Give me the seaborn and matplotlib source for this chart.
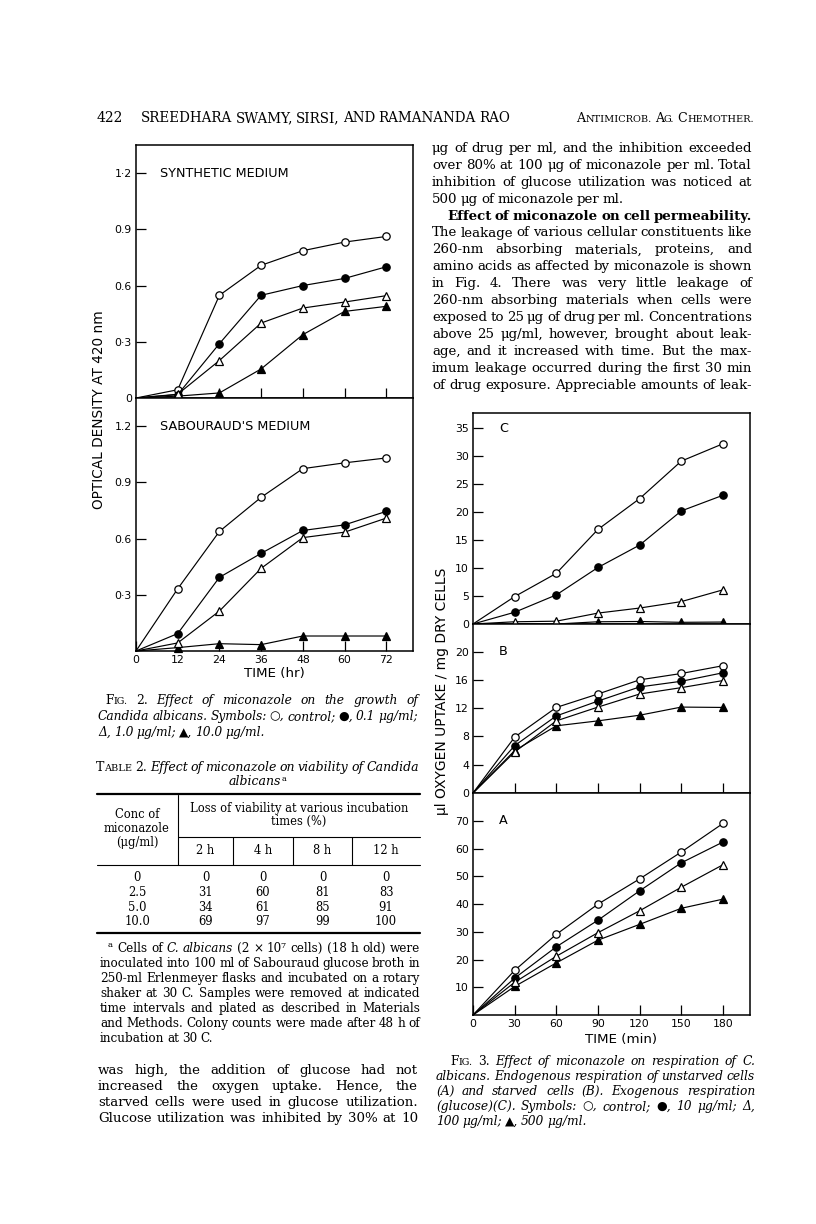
import numpy as np
import pandas as pd
import seaborn as sns
import matplotlib.pyplot as plt
from matplotlib.lines import Line2D

W, H = 816, 1224

# Fig. 2: growth of C. albicans, optical density at 420 nm
hours = [0, 12, 24, 36, 48, 60, 72]
syn_control = [0, 0.044, 0.548, 0.708, 0.786, 0.832, 0.862]
syn_01 = [0, 0.018, 0.29, 0.548, 0.60, 0.638, 0.70]
syn_10 = [0, 0.02, 0.20, 0.40, 0.48, 0.512, 0.546]
syn_100 = [0, 0.01, 0.027, 0.155, 0.338, 0.462, 0.489]
sab_control = [0, 0.332, 0.638, 0.82, 0.973, 1.004, 1.03]
sab_01 = [0, 0.093, 0.393, 0.521, 0.643, 0.673, 0.745]
sab_10 = [0, 0.043, 0.213, 0.441, 0.605, 0.634, 0.709]
sab_100 = [0, 0.018, 0.039, 0.034, 0.08, 0.08, 0.08]

# Fig. 3: oxygen uptake (ul / mg dry cells)
minutes = [0, 30, 60, 90, 120, 150, 180]
c_control = [0, 4.9, 9.05, 16.9, 22.4, 29.1, 32.2]
c_10 = [0, 2.1, 5.2, 10.1, 14.1, 20.2, 23.0]
c_100 = [0, 0.4, 0.5, 1.95, 2.85, 4.0, 6.1]
c_500 = [0, 0.0, 0.0, 0.4, 0.45, 0.3, 0.35]
b_control = [0, 7.9, 12.1, 14.0, 16.0, 16.9, 18.0]
b_10 = [0, 6.7, 10.9, 13.0, 15.0, 15.8, 17.0]
b_100 = [0, 5.8, 10.2, 12.15, 14.0, 14.9, 15.9]
b_500 = [0, 6.0, 9.5, 10.2, 11.0, 12.15, 12.1]
a_control = [0, 16.1, 29.1, 40.0, 49.1, 58.8, 69.1]
a_10 = [0, 13.3, 24.6, 34.2, 44.8, 54.9, 62.4]
a_100 = [0, 11.8, 21.2, 29.7, 37.6, 46.1, 54.2]
a_500 = [0, 10.3, 18.8, 27.0, 32.7, 38.5, 41.8]

# Table 2
conc_labels = ["0", "2.5", "5.0", "10.0"]
time_cols = ["2 h", "4 h", "8 h", "12 h"]
loss = [[0, 0, 0, 0], [31, 60, 81, 83], [34, 61, 85, 91], [69, 97, 99, 100]]

sns.set_style("ticks")
plt.rcParams["font.family"] = ["DejaVu Serif", "DejaVu Sans"]

fig = plt.figure(figsize=(W / 100, H / 100), dpi=100)
fig.patch.set_facecolor("white")

SANS = dict(family="DejaVu Sans", color="black")
SERIF = ["DejaVu Serif", "DejaVu Sans"]
BODY = dict(family=SERIF, fontsize=9.7, color="black")
BOLD = dict(BODY, weight="bold")
TICK = 7.8
LAB = 9.2

# open circle, filled circle, open triangle, filled triangle
SYMBOLS = [("o", "white"), ("o", "black"), ("^", "white"), ("^", "black")]


def panel(left, top, right, bottom):
    return fig.add_axes([left / W, 1 - bottom / H, (right - left) / W, (bottom - top) / H])


def draw_series(ax, x, series):
    # filled triangles go under the open ones
    for i in [0, 1, 3, 2]:
        mk, fc = SYMBOLS[i]
        sns.lineplot(x=x, y=series[i], ax=ax, color="black", linewidth=0.85,
                     marker=mk, markersize=5.3 if mk == "o" else 5.8,
                     markerfacecolor=fc, markeredgecolor="black",
                     markeredgewidth=0.9, markevery=slice(1, None),
                     errorbar=None, clip_on=False, zorder=3)
    ax.set_xlabel("")
    ax.set_ylabel("")
    for s in ax.spines.values():
        s.set_linewidth(1.1)
        s.set_color("black")
    ax.tick_params(direction="in", length=7, width=0.9, pad=3, colors="black")


# ---------------- Fig. 2 ----------------
ax_syn = panel(136, 145, 413, 398)
draw_series(ax_syn, hours, [syn_control, syn_01, syn_10, syn_100])
ax_syn.set_xlim(0, 79.7)
ax_syn.set_ylim(0, 1.35)
ax_syn.set_xticks([12, 24, 36, 48, 60, 72])
ax_syn.tick_params(axis="x", labelbottom=False)
ax_syn.set_yticks([0, 0.3, 0.6, 0.9, 1.2])
ax_syn.set_yticklabels(["0", "0·3", "0.6", "0.9", "1·2"], fontsize=TICK, **SANS)
ax_syn.text(6.9, 1.2, "SYNTHETIC MEDIUM", va="center", ha="left", fontsize=LAB, **SANS)

ax_sab = panel(136, 398, 413, 651)
draw_series(ax_sab, hours, [sab_control, sab_01, sab_10, sab_100])
ax_sab.set_xlim(0, 79.7)
ax_sab.set_ylim(0, 1.35)
ax_sab.set_xticks(hours)
ax_sab.set_xticklabels([str(h) for h in hours], fontsize=TICK, **SANS)
ax_sab.set_yticks([0.3, 0.6, 0.9, 1.2])
ax_sab.set_yticklabels(["0·3", "0.6", "0.9", "1.2"], fontsize=TICK, **SANS)
ax_sab.text(6.9, 1.2, "SABOURAUD'S MEDIUM", va="center", ha="left", fontsize=LAB, **SANS)

fig.text(99 / W, 1 - 410 / H, "OPTICAL DENSITY AT 420 nm", rotation=90,
         ha="center", va="center", fontsize=9.8, **SANS)
fig.text(274 / W, 1 - 674 / H, "TIME (hr)", ha="center", va="center", fontsize=9.6, **SANS)

# ---------------- Fig. 3 ----------------
ax_c = panel(473, 413, 750, 624)
draw_series(ax_c, minutes, [c_control, c_10, c_100, c_500])
ax_c.set_xlim(0, 199.5)
ax_c.set_ylim(0, 37.7)
ax_c.set_xticks([])
ax_c.set_yticks([0, 5, 10, 15, 20, 25, 30, 35])
ax_c.set_yticklabels([str(v) for v in [0, 5, 10, 15, 20, 25, 30, 35]], fontsize=TICK, **SANS)
ax_c.text(18.7, 35, "C", va="center", ha="left", fontsize=LAB, **SANS)

ax_b = panel(473, 624, 750, 793)
draw_series(ax_b, minutes, [b_control, b_10, b_100, b_500])
ax_b.set_xlim(0, 199.5)
ax_b.set_ylim(0, 23.9)
ax_b.set_xticks(minutes[1:])
ax_b.tick_params(axis="x", labelbottom=False)
ax_b.set_yticks([0, 4, 8, 12, 16, 20])
ax_b.set_yticklabels([str(v) for v in [0, 4, 8, 12, 16, 20]], fontsize=TICK, **SANS)
ax_b.text(18.7, 20, "B", va="center", ha="left", fontsize=LAB, **SANS)

ax_a = panel(473, 793, 750, 1015)
draw_series(ax_a, minutes, [a_control, a_10, a_100, a_500])
ax_a.set_xlim(0, 199.5)
ax_a.set_ylim(0, 80.1)
ax_a.set_xticks(minutes)
ax_a.set_xticklabels([str(m) for m in minutes], fontsize=TICK, **SANS)
ax_a.set_yticks([10, 20, 30, 40, 50, 60, 70])
ax_a.set_yticklabels([str(v) for v in [10, 20, 30, 40, 50, 60, 70]], fontsize=TICK, **SANS)
ax_a.text(18.7, 70, "A", va="center", ha="left", fontsize=LAB, **SANS)

fig.text(442 / W, 1 - 691 / H, "μl OXYGEN UPTAKE / mg DRY CELLS", rotation=90,
         ha="center", va="center", fontsize=10, **SANS)
fig.text(621 / W, 1 - 1040 / H, "TIME (min)", ha="center", va="center", fontsize=9.6, **SANS)


# ---------------- page text ----------------
REND = fig.canvas.get_renderer()


def words(s, props):
    return [[(w, props)] for w in s.split()]


def smallcap(word, props, ratio=0.78):
    small = dict(props, fontsize=props["fontsize"] * ratio)
    parts = [(word[0], dict(props))]
    if len(word) > 1:
        parts.append((word[1:].upper(), small))
    return [parts]


def wwidth(ts):
    return sum(t.get_window_extent(REND).width for t in ts)


def put_block(lines, min_gap=2.8, space=3.2):
    # lines: (x0, x1, y, words, justify, align); one font scale for the whole block
    made = []
    scale = 1.0
    for x0, x1, y, wl, just, align in lines:
        placed = [[fig.text(0, 0, s, va="baseline", ha="left", **p) for s, p in w] for w in wl]
        tot = sum(wwidth(ts) for ts in placed)
        n = len(placed)
        if n > 1:
            scale = min(scale, (x1 - x0 - min_gap * (n - 1)) / tot)
        made.append((x0, x1, y, placed, just, align))
    for x0, x1, y, placed, just, align in made:
        if scale < 1:
            for ts in placed:
                for t in ts:
                    t.set_fontsize(t.get_fontsize() * scale)
        widths = [wwidth(ts) for ts in placed]
        n = len(placed)
        gap = space * min(scale, 1)
        if just and n > 1:
            gap = (x1 - x0 - sum(widths)) / (n - 1)
        x = x0
        if align == "center":
            x = (x0 + x1) / 2 - (sum(widths) + gap * (n - 1)) / 2
        for ts in placed:
            for t in ts:
                t.set_position((x / W, 1 - y / H))
                x += t.get_window_extent(REND).width
            x += gap


def hrule(x0, x1, y, lw=0.8):
    fig.add_artist(Line2D([x0 / W, x1 / W], [1 - y / H, 1 - y / H], lw=lw, color="black"))


def vrule(x, y0, y1, lw=0.8):
    fig.add_artist(Line2D([x / W, x / W], [1 - y0 / H, 1 - y1 / H], lw=lw, color="black"))


# running head
HEAD = dict(family=SERIF, fontsize=10, color="black")
HS = dict(HEAD, fontsize=9.8)
put_block([(97, 122, 122, words("422", HEAD), False, "left")])
put_block([(141, 510, 122, words("SREEDHARA SWAMY, SIRSI, AND RAMANANDA RAO", HS), True, "left")])
put_block([(576, 754, 122, smallcap("Antimicrob.", HS) + smallcap("Ag.", HS)
            + smallcap("Chemother.", HS), True, "left")])

# body text, both columns
right_lines = [
    ("μg of drug per ml, and the inhibition exceeded", BODY, True),
    ("over 80% at 100 μg of miconazole per ml. Total", BODY, True),
    ("inhibition of glucose utilization was noticed at", BODY, True),
    ("500 μg of miconazole per ml.", BODY, False),
    ("Effect of miconazole on cell permeability.", BOLD, True),
    ("The leakage of various cellular constituents like", BODY, True),
    ("260-nm absorbing materials, proteins, and", BODY, True),
    ("amino acids as affected by miconazole is shown", BODY, True),
    ("in Fig. 4. There was very little leakage of", BODY, True),
    ("260-nm absorbing materials when cells were", BODY, True),
    ("exposed to 25 μg of drug per ml. Concentrations", BODY, True),
    ("above 25 μg/ml, however, brought about leak-", BODY, True),
    ("age, and it increased with time. But the max-", BODY, True),
    ("imum leakage occurred during the first 30 min", BODY, True),
    ("of drug exposure. Appreciable amounts of leak-", BODY, True),
]
left_lines = [
    "was high, the addition of glucose had not",
    "increased the oxygen uptake. Hence, the",
    "starved cells were used in glucose utilization.",
    "Glucose utilization was inhibited by 30% at 10",
]
body = []
for i, (s, p, j) in enumerate(right_lines):
    x0 = 447 if p is BOLD else 432
    body.append((x0, 752, 152 + i * 16.9, words(s, p), j, "left"))
for i, s in enumerate(left_lines):
    body.append((98, 418, 1074 + i * 16.1, words(s, BODY), True, "left"))
put_block(body)

# figure captions
CAP = dict(BODY, fontsize=9.4)
CAPI = dict(CAP, style="italic")
fig3_caption = [
    "albicans. Endogenous respiration of unstarved cells",
    "(A) and starved cells (B). Exogenous respiration",
    "(glucose)(C). Symbols: ○, control; ●, 10 μg/ml; Δ,",
    "100 μg/ml; ▲, 500 μg/ml.",
]
caps = [
    (105, 418, 704, smallcap("Fig.", CAP) + words("2.", CAP)
     + words("Effect of miconazole on the growth of", CAPI), True, "left"),
    (98, 418, 720, words("Candida albicans. Symbols: ○, control; ●, 0.1 μg/ml;", CAPI), True, "left"),
    (98, 418, 736, words("Δ, 1.0 μg/ml; ▲, 10.0 μg/ml.", CAPI), False, "left"),
    (450, 755, 1065, smallcap("Fig.", CAP) + words("3.", CAP)
     + words("Effect of miconazole on respiration of C.", CAPI), True, "left"),
]
for i, s in enumerate(fig3_caption):
    caps.append((436, 755, 1080 + i * 15, words(s, CAPI), i < len(fig3_caption) - 1, "left"))
put_block(caps)

# Table 2
TAB = dict(BODY, fontsize=8.3)
TT = dict(BODY, fontsize=9.4)
TTI = dict(TT, style="italic")
put_block([
    (96, 419, 771, smallcap("Table", TT) + words("2.", TT)
     + words("Effect of miconazole on viability of Candida", TTI), True, "left"),
    (96, 419, 785, [[("albicans", TTI), ("ᵃ", dict(TT, fontsize=10))]], False, "center"),
])

tab_l, tab_r, split_x = 97, 420, 178
col_edges = [178, 233, 293, 352, 420]
hrule(tab_l, tab_r, 794, lw=1.6)
for j, s in enumerate(["Conc of", "miconazole", "(μg/ml)"]):
    fig.text(137 / W, 1 - (818 + j * 14) / H, s, ha="center", va="baseline", **TAB)
fig.text(299 / W, 1 - 812 / H, "Loss of viability at various incubation", ha="center", va="baseline", **TAB)
fig.text(299 / W, 1 - 825 / H, "times (%)", ha="center", va="baseline", **TAB)
hrule(split_x, tab_r, 837)
vrule(split_x, 795, 865)
for xe in col_edges[1:-1]:
    vrule(xe, 837, 865)
for k, s in enumerate(time_cols):
    xc = (col_edges[k] + col_edges[k + 1]) / 2
    fig.text(xc / W, 1 - 854 / H, s, ha="center", va="baseline", **TAB)
hrule(tab_l, tab_r, 865)
for r, lab in enumerate(conc_labels):
    yb = 881 + r * 14.8
    fig.text(137 / W, 1 - yb / H, lab, ha="center", va="baseline", **TAB)
    for k, v in enumerate(loss[r]):
        xc = (col_edges[k] + col_edges[k + 1]) / 2
        fig.text(xc / W, 1 - yb / H, str(v), ha="center", va="baseline", **TAB)
hrule(tab_l, tab_r, 933, lw=1.6)

# table footnote
FN = dict(BODY, fontsize=8.8)
FNI = dict(FN, style="italic")
foot_lines = [
    "inoculated into 100 ml of Sabouraud glucose broth in",
    "250-ml Erlenmeyer flasks and incubated on a rotary",
    "shaker at 30 C. Samples were removed at indicated",
    "time intervals and plated as described in Materials",
    "and Methods. Colony counts were made after 48 h of",
    "incubation at 30 C.",
]
foot = [(108, 420, 952, [[("ᵃ", dict(FN, fontsize=10))]] + words("Cells of", FN)
         + words("C. albicans", FNI) + words("(2 × 10⁷ cells) (18 h old) were", FN), True, "left")]
for i, s in enumerate(foot_lines):
    foot.append((100, 420, 967 + i * 15, words(s, FN), i < len(foot_lines) - 1, "left"))
put_block(foot)

fig.savefig("out.png", dpi=100, facecolor="white")
